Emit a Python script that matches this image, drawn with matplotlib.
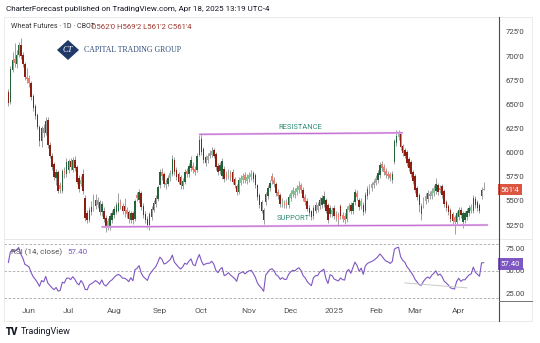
import matplotlib
matplotlib.use('Agg')
import matplotlib.pyplot as plt
from matplotlib.patches import Polygon, Rectangle
from matplotlib.lines import Line2D
import numpy as np
import pandas as pd

plt.rcParams['font.family'] = ['Roboto', 'DejaVu Sans']

W, H = 540, 343

# daily bars 17 May 2024 .. 17 Apr 2025, exchange holidays dropped
holidays = ['2024-05-27', '2024-06-19', '2024-07-04', '2024-09-02', '2024-11-28',
            '2024-12-25', '2025-01-01', '2025-01-09', '2025-01-20', '2025-02-17']
dates = pd.bdate_range('2024-05-17', '2025-04-17')
dates = dates[~dates.isin(pd.to_datetime(holidays))]

opens = [663, 652, 686, 697, 692, 701, 712, 701, 692, 678,
         677, 672, 659, 648, 639, 627, 612, 625, 620, 634,
         608, 597, 588, 574, 580, 566, 560, 581, 578, 582,
         591, 582, 592, 585, 574, 568, 578, 553, 537, 530,
         538, 543, 545, 551, 549, 538, 540, 532, 524, 524,
         530, 535, 538, 540, 549, 545, 545, 541, 538, 530,
         537, 531, 556, 551, 558, 545, 536, 531, 525, 533,
         541, 547, 552, 566, 580, 578, 566, 568, 574, 578,
         592, 582, 578, 575, 565, 570, 581, 578, 584, 586,
         583, 582, 598, 614, 604, 589, 592, 600, 598, 603,
         599, 586, 581, 576, 583, 578, 576, 579, 580, 573,
         565, 559, 569, 572, 577, 571, 573, 575, 579, 577,
         566, 556, 549, 541, 549, 555, 563, 576, 572, 568,
         559, 556, 547, 548, 549, 546, 553, 557, 556, 559,
         561, 566, 561, 554, 550, 543, 539, 534, 540, 541,
         545, 546, 547, 551, 546, 536, 536, 543, 536, 535,
         545, 535, 534, 531, 541, 546, 539, 549, 558, 551,
         545, 546, 540, 555, 560, 563, 566, 569, 572, 577,
         588, 585, 581, 578, 578, 572, 590, 610, 616, 619,
         607, 603, 601, 593, 590, 580, 576, 563, 556, 536,
         546, 550, 552, 557, 555, 558, 560, 566, 563, 565,
         560, 549, 545, 541, 536, 533, 528, 533, 541, 528,
         530, 533, 537, 540, 540, 552, 549, 546, 555, 562]

highs = [666, 690, 704, 714, 706, 715, 719, 704, 694, 688,
         680, 674, 661, 650, 641, 629, 628, 630, 637, 637,
         611, 600, 590, 583, 582, 570, 583, 585, 594, 593,
         594, 595, 596, 587, 577, 576, 583, 556, 541, 544,
         550, 557, 557, 554, 551, 550, 544, 535, 532, 537,
         541, 545, 549, 558, 552, 548, 553, 544, 541, 540,
         540, 552, 559, 562, 560, 548, 539, 534, 538, 545,
         551, 556, 566, 583, 584, 580, 573, 577, 582, 598,
         595, 585, 580, 577, 574, 583, 584, 589, 596, 590,
         586, 600, 618, 619, 606, 598, 600, 603, 606, 605,
         601, 589, 590, 594, 586, 581, 583, 582, 583, 575,
         568, 575, 577, 579, 580, 578, 580, 582, 581, 579,
         568, 558, 551, 543, 559, 566, 572, 579, 575, 570,
         562, 558, 553, 551, 552, 557, 561, 564, 563, 566,
         571, 569, 564, 557, 553, 546, 541, 546, 549, 549,
         554, 556, 560, 553, 548, 546, 544, 546, 539, 538,
         547, 538, 537, 545, 548, 549, 551, 562, 561, 553,
         553, 549, 559, 565, 568, 570, 573, 577, 582, 590,
         591, 588, 584, 581, 580, 581, 614, 623, 623, 621,
         609, 605, 603, 595, 592, 582, 578, 565, 558, 548,
         554, 558, 561, 560, 563, 566, 574, 569, 566, 567,
         562, 551, 547, 543, 538, 535, 540, 544, 544, 540,
         540, 543, 546, 547, 556, 555, 551, 548, 564, 569.25]

lows = [648, 650, 684, 689, 688, 699, 697, 689, 675, 672,
        668, 655, 643, 635, 624, 607, 606, 616, 618, 605,
        594, 582, 572, 566, 558, 558, 558, 574, 575, 579,
        582, 580, 581, 567, 559, 565, 557, 529, 527, 528,
        535, 540, 542, 543, 535, 534, 528, 518, 520, 520,
        527, 532, 536, 538, 542, 536, 533, 532, 527, 527,
        526, 529, 550, 548, 541, 532, 527, 522, 520, 530,
        538, 544, 550, 563, 572, 564, 562, 565, 571, 576,
        577, 572, 567, 562, 562, 567, 575, 575, 581, 579,
        577, 580, 596, 598, 589, 586, 589, 594, 595, 594,
        582, 577, 578, 573, 570, 572, 573, 571, 567, 563,
        556, 557, 566, 569, 569, 568, 570, 572, 570, 563,
        551, 543, 537, 526, 546, 552, 560, 568, 564, 555,
        552, 544, 544, 543, 543, 543, 550, 554, 553, 556,
        558, 558, 550, 546, 539, 534, 530, 531, 537, 538,
        542, 543, 544, 537, 527, 533, 533, 531, 529, 524,
        531, 528, 526, 528, 538, 536, 536, 546, 551, 541,
        542, 535, 537, 552, 557, 560, 563, 566, 569, 574,
        581, 577, 574, 573, 571, 569, 588, 607, 613, 603,
        597, 594, 586, 581, 575, 568, 558, 551, 538, 530,
        543, 547, 549, 552, 552, 555, 557, 556, 558, 553,
        544, 540, 535, 528, 526, 516, 525, 530, 532, 522,
        527, 530, 534, 537, 537, 543, 540, 537, 552, 561.25]

closes = [651, 687, 696, 693, 701, 712, 700, 692, 678, 676,
          672, 658, 646, 638, 627, 612, 625, 620, 633, 608,
          597, 585, 575, 580, 560, 562, 581, 578, 590, 591,
          585, 592, 584, 570, 562, 572, 560, 532, 530, 541,
          544, 547, 551, 546, 538, 547, 531, 524, 529, 534,
          537, 542, 546, 548, 545, 539, 539, 536, 531, 537,
          530, 550, 553, 559, 544, 535, 530, 525, 536, 542,
          548, 553, 564, 580, 576, 567, 569, 574, 579, 593,
          580, 575, 570, 566, 571, 580, 578, 586, 592, 582,
          580, 597, 613, 601, 592, 595, 597, 597, 602, 597,
          585, 580, 587, 591, 573, 575, 579, 574, 570, 566,
          559, 572, 574, 576, 572, 575, 577, 578, 573, 566,
          554, 546, 540, 530, 557, 563, 569, 571, 567, 558,
          555, 547, 550, 546, 546, 554, 558, 561, 560, 563,
          565, 561, 553, 549, 542, 537, 533, 543, 546, 546,
          551, 553, 555, 540, 530, 543, 541, 534, 532, 530,
          534, 531, 530, 542, 545, 539, 548, 559, 554, 544,
          550, 538, 556, 562, 565, 567, 570, 574, 579, 587,
          584, 580, 577, 576, 574, 578, 612, 617, 620, 606,
          600, 597, 589, 584, 578, 571, 561, 554, 546, 545,
          551, 555, 558, 555, 560, 563, 567, 559, 561, 556,
          547, 543, 538, 531, 529, 528, 537, 541, 535, 537,
          537, 540, 543, 544, 553, 546, 543, 540, 561, 561.5]

# closes before the visible window, only used to seed the RSI
warmup_closes = [630, 636, 632, 641, 648, 644, 652, 660, 655, 649,
                 657, 664, 660, 668, 675, 669, 662, 667, 671, 663]

month_labels = ['Jun', 'Jul', 'Aug', 'Sep', 'Oct', 'Nov', 'Dec', '2025', 'Feb', 'Mar', 'Apr']
price_ticks = [525, 550, 575, 600, 625, 650, 675, 700, 725]
rsi_ticks = [25, 50, 75]
rsi_bands = [20, 50, 80]
rsi_last = 57.40
last_label = "561'4"
resistance_idx = [92, 190]
resistance_px = [619.0, 620.5]
support_idx = [45, 231]
support_px = [523.0, 525.0]
rsi_trend_idx = [191, 221]
rsi_trend_val = [36.5, 31.0]

# rsi 14 (wilder)
allc = pd.Series(warmup_closes + closes, dtype=float)
d = allc.diff()
up = d.clip(lower=0).ewm(alpha=1/14, adjust=False).mean()
dn = (-d.clip(upper=0)).ewm(alpha=1/14, adjust=False).mean()
rsi = (100 - 100 / (1 + up / dn)).values[len(warmup_closes):]

per = dates.to_period('M')
month_idx = [i for i in range(1, len(dates)) if per[i] != per[i-1]]

fig = plt.figure(figsize=(W/100, H/100), dpi=100)

def fx(px):
    return px / W

def fy(py):
    return 1 - py / H

ax = fig.add_axes([fx(4), fy(239), 495/W, 222/H])
ax2 = fig.add_axes([fx(4), fy(301), 495/W, 62/H], sharex=ax)

x = np.arange(len(closes))
GD, GL, RD, RL = '#22633a', '#86c198', '#8b1e10', '#ef7b6e'
for i in x:
    o, h, l, c = opens[i], highs[i], lows[i], closes[i]
    ax.vlines(i, l, h, color='#8f8f8f', lw=0.6, zorder=2)
    big = abs(c - o) >= 6
    if c >= o:
        col = GD if big else GL
    else:
        col = RD if big else RL
    ax.bar(i, max(abs(c - o), 0.8), bottom=min(o, c), width=0.72, color=col, lw=0, zorder=3)

for xs, ys in [(resistance_idx, resistance_px), (support_idx, support_px)]:
    ax.plot(xs, ys, color='#e6bded', lw=1.6, solid_capstyle='butt', zorder=4)
    ax.plot(xs, ys, color='#a93fbd', lw=0.6, alpha=0.75, zorder=4)

ax.set_xlim(-2.1, 236.4)
ax.set_ylim(510.5, 740.5)
ax2.set_ylim(16.4, 85.3)

for a in (ax, ax2):
    for s in a.spines.values():
        s.set_visible(False)
    a.yaxis.tick_right()
    a.tick_params(axis='y', length=0, pad=5, labelsize=5.6, labelcolor='#444444')

ax.set_yticks(price_ticks, [f"{p}'0" for p in price_ticks])
ax.tick_params(axis='x', length=0, labelbottom=False)

ax2.set_yticks(rsi_ticks, [f'{v:.2f}' for v in rsi_ticks])
ax2.set_xticks(month_idx, month_labels)
ax2.tick_params(axis='x', length=0, pad=5, labelsize=6, labelcolor='#555555')

for b in rsi_bands:
    ax2.axhline(b, color='#a8a8a8', lw=0.6, ls=(0, (3, 2)))
ax2.plot(x, rsi, color='#7e57c2', lw=0.8)
ax2.plot(rsi_trend_idx, rsi_trend_val, color='#c9c9c9', lw=0.7)

# value boxes on the price scale
ax.text(1.003, closes[-1], last_label, transform=ax.get_yaxis_transform(), ha='left', va='center',
        fontsize=5.6, color='white', clip_on=False, zorder=10,
        bbox=dict(boxstyle='square,pad=0.35', fc='#dd5441', ec='none'))
ax2.text(1.003, rsi_last, f'{rsi_last:.2f}', transform=ax2.get_yaxis_transform(), ha='left', va='center',
         fontsize=5.6, color='white', clip_on=False, zorder=10,
         bbox=dict(boxstyle='square,pad=0.35', fc='#7e57c2', ec='none'))

# frame lines
fig.add_artist(Rectangle((fx(4), fy(321)), 528/W, 304/H, transform=fig.transFigure,
                         fill=False, ec='#e8e8e8', lw=0.6))
fig.add_artist(Line2D([fx(4), fx(532)], [fy(239), fy(239)], color='#e4e4e4', lw=0.6))
fig.add_artist(Line2D([fx(499), fx(499)], [fy(17), fy(321)], color='#4a4a4a', lw=0.8))
fig.add_artist(Line2D([fx(499), fx(532)], [fy(301), fy(301)], color='#777777', lw=0.7))

# texts
fig.text(fx(6), fy(9), 'CharterForecast published on TradingView.com, Apr 18, 2025 13:19 UTC-4',
         fontsize=5.8, color='#131722', va='center')
fig.text(fx(11), fy(27), 'Wheat Futures \u00b7 1D \u00b7 CBOT', fontsize=5.1, color='#333333', va='center')
fig.text(fx(91), fy(27), "O562'0 H569'2 L561'2 C561'4", fontsize=5.6, color='#9c3a30', va='center')

cx, cy = 68, 50
fig.add_artist(Polygon([(fx(cx - 11), fy(cy)), (fx(cx), fy(cy - 10)), (fx(cx + 11), fy(cy)), (fx(cx), fy(cy + 10))],
                       closed=True, transform=fig.transFigure, fc='#1f3a68', ec='none'))
fig.text(fx(cx), fy(cy), 'CT', fontsize=6, color='white', ha='center', va='center',
         family='Liberation Serif', style='italic')
fig.text(fx(84), fy(50), 'CAPITAL TRADING GROUP', fontsize=5.6, color='#2b4a7a', va='center',
         family='Liberation Serif')

fig.text(fx(300), fy(127), 'RESISTANCE', fontsize=5.4, color='#2e8b74', ha='center', va='center')
fig.text(fx(293), fy(218), 'SUPPORT', fontsize=5.4, color='#2e8b74', ha='center', va='center')

fig.text(fx(11), fy(252), 'RSI (14, close)', fontsize=5.8, color='#555555', va='center')
fig.text(fx(67), fy(252), f'{rsi_last:.2f}', fontsize=5.8, color='#7e57c2', va='center')

fig.text(fx(6), fy(332), 'TV', fontsize=7, color='#131722', va='center', fontweight='heavy')
fig.text(fx(21), fy(332), 'TradingView', fontsize=6.5, color='#131722', va='center')

fig.savefig('out.png', dpi=100, facecolor='white')
